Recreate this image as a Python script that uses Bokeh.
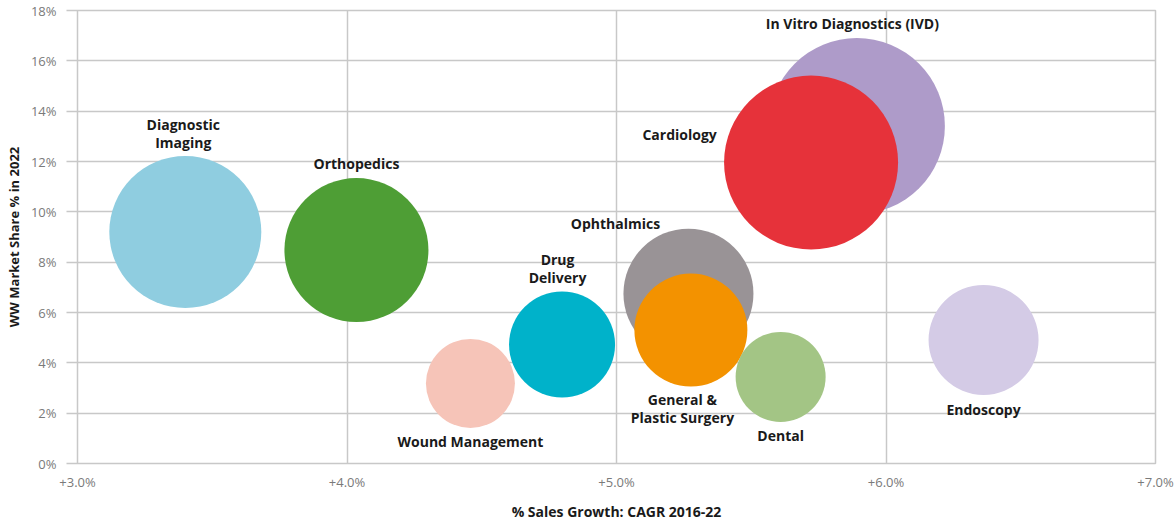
from bokeh.plotting import figure
from bokeh.models import ColumnDataSource, Range1d, FixedTicker
from bokeh.core.properties import value
from bokeh.embed import file_html
from bokeh.resources import INLINE

# ---------------- data ----------------
segments = ["Diagnostic\nImaging", "Orthopedics", "Wound Management", "Drug\nDelivery",
            "Ophthalmics", "General &\nPlastic Surgery", "Dental",
            "In Vitro Diagnostics (IVD)", "Cardiology", "Endoscopy"]
sales_growth = [3.40, 4.035, 4.458, 4.798, 5.267, 5.276, 5.609, 5.892, 5.722, 6.362]   # CAGR 2016-22, %
market_share = [9.20, 8.48, 3.18, 4.73, 6.75, 5.30, 3.44, 13.41, 11.96, 4.91]          # WW share 2022, %
bubble_size = [152, 144, 89, 106, 130, 113, 90, 176, 174, 110]                         # relative market size
x_ticks = [3, 4, 5, 6, 7]
x_tick_labels = ["+3.0%", "+4.0%", "+5.0%", "+6.0%", "+7.0%"]
y_ticks = [0, 2, 4, 6, 8, 10, 12, 14, 16, 18]
y_tick_labels = ["0%", "2%", "4%", "6%", "8%", "10%", "12%", "14%", "16%", "18%"]

# ---------------- styles ----------------
colors = ["#8FCDE0", "#4E9E35", "#F6C4B8", "#00B2CA", "#999396",
          "#F39200", "#A3C585", "#AE9BC9", "#E6323A", "#D4CBE6"]
# label offsets from bubble centre in screen pixels (dx right, dy down)
label_dx = [-2, 0, 0, -4.5, -73, -8.5, 0, -4.5, -131.5, 0]
label_dy = [-98.5, -86.5, 58, -75.5, -70, 78.5, 58.5, -102.5, -28, 69.5]

FW, FH = 1078, 453
X0, X1, Y0, Y1 = 3, 7, 0, 18
px_x = FW / (X1 - X0)
px_y = FH / (Y1 - Y0)
label_x = [x + dx / px_x for x, dx in zip(sales_growth, label_dx)]
label_y = [y - dy / px_y for y, dy in zip(market_share, label_dy)]

src = ColumnDataSource(dict(x=sales_growth, y=market_share, s=bubble_size, c=colors))
lsrc = ColumnDataSource(dict(x=label_x, y=label_y, t=segments))

p = figure(frame_width=FW, frame_height=FH, output_backend="svg", toolbar_location=None,
           x_range=Range1d(X0, X1), y_range=Range1d(Y0, Y1),
           min_border_left=77, min_border_right=20, min_border_top=10, min_border_bottom=64)
p.background_fill_color = "white"
p.border_fill_color = "white"
p.outline_line_color = "#c8c8c8"
p.outline_line_width = 1.5

grid_c = "#c8c8c8"
p.xgrid.ticker = FixedTicker(ticks=x_ticks)
p.ygrid.ticker = FixedTicker(ticks=y_ticks)
p.xgrid.grid_line_color = grid_c
p.ygrid.grid_line_color = grid_c
p.xgrid.grid_line_width = 1.5
p.ygrid.grid_line_width = 1.5

p.xaxis.ticker = FixedTicker(ticks=x_ticks)
p.yaxis.ticker = FixedTicker(ticks=y_ticks)
p.xaxis.major_label_overrides = {t: l for t, l in zip(x_ticks, x_tick_labels)}
p.yaxis.major_label_overrides = {t: l for t, l in zip(y_ticks, y_tick_labels)}

for ax in (p.xaxis, p.yaxis):
    ax.axis_line_color = None
    ax.minor_tick_line_color = None
    ax.minor_tick_out = 0
    ax.minor_tick_in = 0
    ax.major_label_text_font = "Open Sans"
    ax.major_label_text_font_size = "13px"
    ax.major_label_text_color = "#7a7a7a"
    ax.axis_label_text_font = "Open Sans"
    ax.axis_label_text_font_style = "bold"
    ax.axis_label_text_font_size = "14px"
    ax.axis_label_text_color = "#1a1a1a"

p.xaxis.major_tick_line_color = None
p.xaxis.major_tick_out = 0
p.xaxis.major_tick_in = 0
p.xaxis.major_label_standoff = 9
p.xaxis.axis_label = "% Sales Growth: CAGR 2016-22"
p.xaxis.axis_label_standoff = 8

p.yaxis.major_tick_line_color = grid_c
p.yaxis.major_tick_line_width = 1.5
p.yaxis.major_tick_out = 11
p.yaxis.major_tick_in = 0
p.yaxis.major_label_standoff = 10
p.yaxis.axis_label = "WW Market Share % in 2022"
p.yaxis.axis_label_standoff = 5
p.yaxis.axis_label_text_font_size = "13px"

p.scatter("x", "y", size="s", fill_color="c", line_color=None, marker="circle", source=src)

p.text("x", "y", text="t", source=lsrc, text_align="center", text_baseline="middle",
       text_font=value("Open Sans"), text_font_style="bold", text_font_size="14px",
       text_color="#1a1a1a", text_line_height=0.95)

open("out.html", "w").write(file_html(p, INLINE))
